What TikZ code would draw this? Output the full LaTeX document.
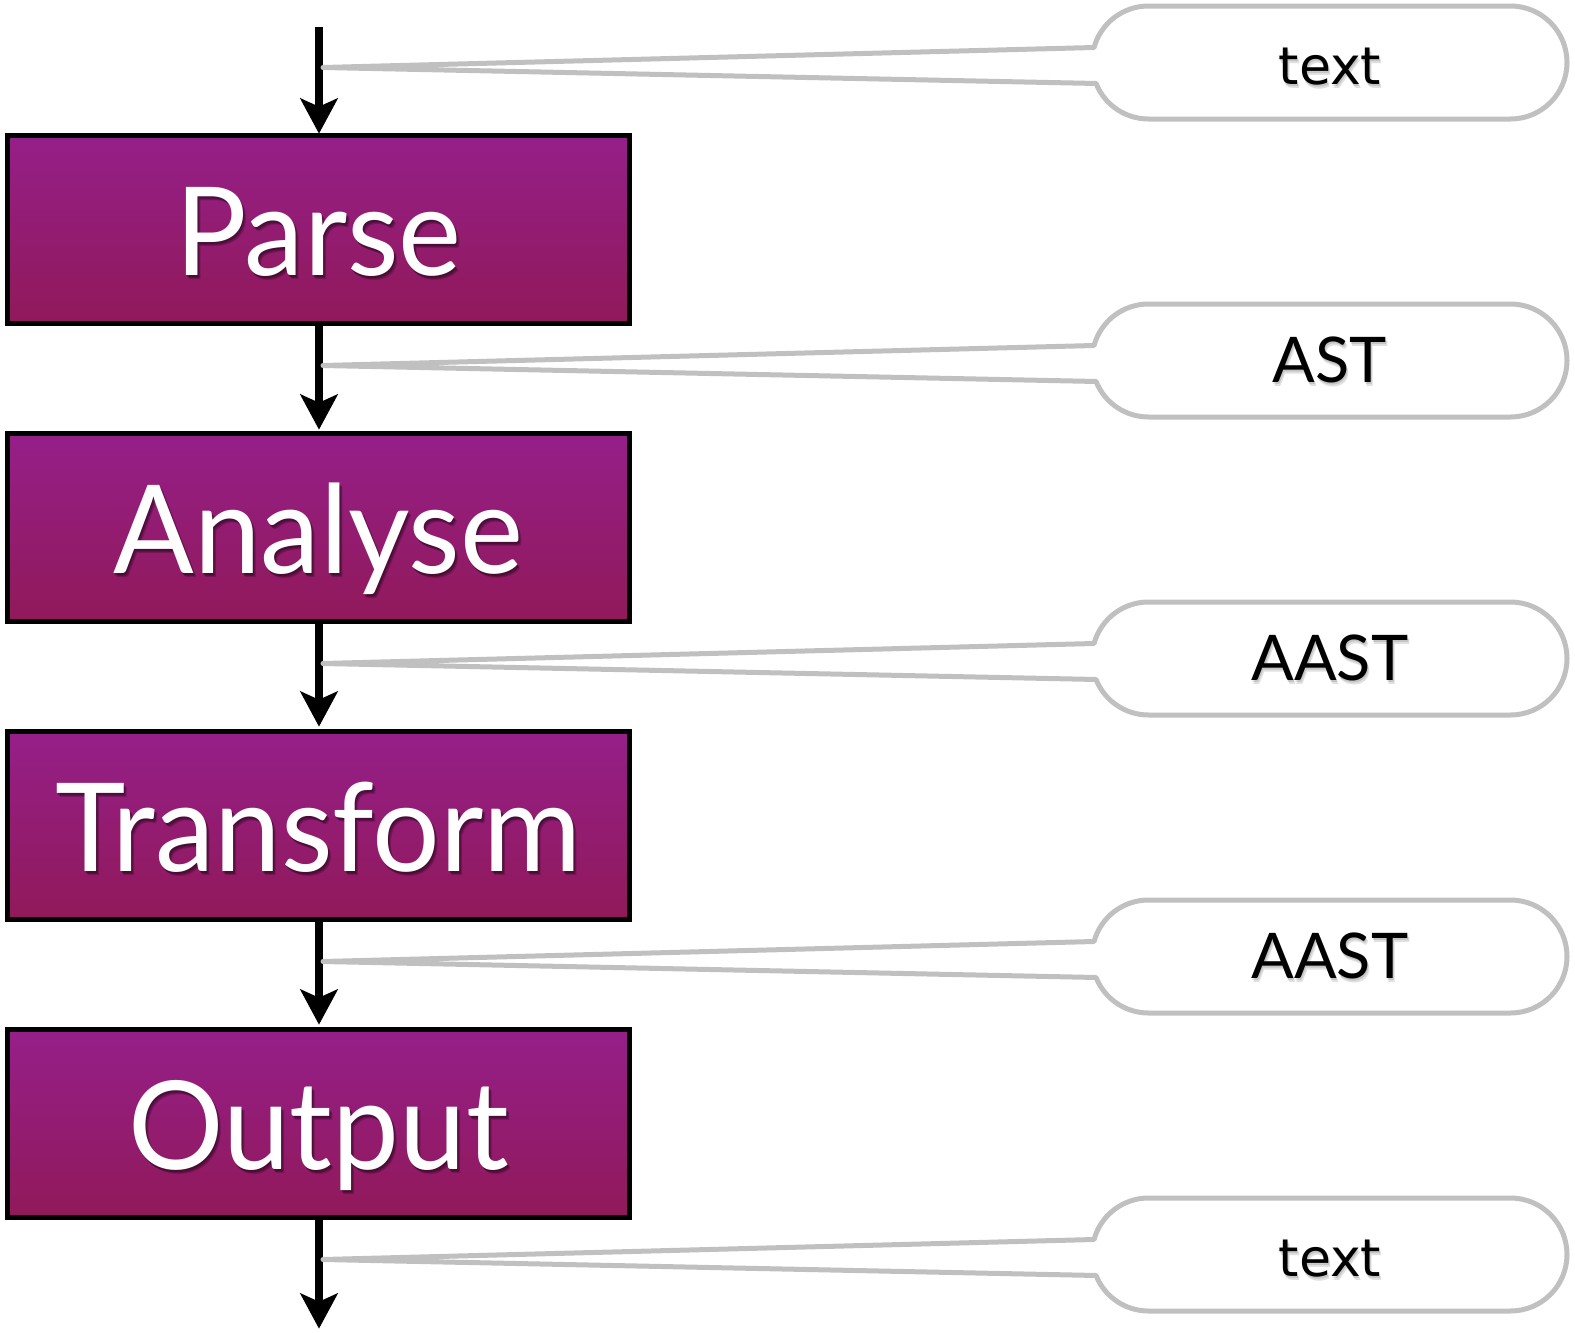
\documentclass[tikz,border=0pt]{standalone}
\usepackage{fontspec}
\newfontfamily\stagefont[FakeStretch=0.97]{Lato}
\newfontfamily\tagfont{Lato}
\newfontfamily\plainfont{DejaVu Sans}
\usetikzlibrary{calc}

\definecolor{stagetop}{RGB}{149,31,137}
\definecolor{stagebot}{RGB}{145,25,90}
\definecolor{callgray}{RGB}{192,192,192}

\tikzset{
  stage/.style={draw=black, line width=5pt, top color=stagetop, bottom color=stagebot,
    minimum width=622pt, minimum height=188pt, inner sep=0pt},
  stagelabel/.style={anchor=base, inner sep=0pt, text=white,
    font=\stagefont\fontsize{123}{123}\selectfont},
  stageshadow/.style={stagelabel, text=black, text opacity=0.2},
  flow/.style={line width=8pt, shorten >=22pt},
  flowhead/.style={fill=black, draw=black, line width=1.5pt, line join=miter},
  callout/.style={draw=callgray, line width=5pt, fill=white, line join=round},
  calltext/.style={anchor=base, inner sep=0pt, text=black},
  callshadow/.style={calltext, text=black, text opacity=0.12},
  tagtext/.style={font=\tagfont\fontsize{63}{63}\selectfont},
  plaintext/.style={font=\plainfont\fontsize{52}{52}\selectfont},
}

% a downward connector with a swept-back arrow head ending at #2
\newcommand\flowto[2]{%
  \draw[flow] (#1) -- (#2);
  \filldraw[flowhead] ($(#2)+(0,-1)$) -- ($(#2)+(-17.5,-33.5)$) -- ($(#2)+(0,-25.5)$)
    -- ($(#2)+(17.5,-33.5)$) -- cycle;
}

% a processing stage: name, centre y, label
\newcommand\stagebox[3]{%
  \node[stage] (#1) at (318.5,#2) {};
  \foreach \dx/\dy [count=\k] in {1/2,2/3,3/4}
    \node[stageshadow] (#1-shadow\k) at (318.5+\dx,#2+46+\dy) {#3};
  \node[stagelabel] (#1-label) at (318.5,#2+46) {#3};
}

% a pill-shaped callout whose wedge points at a coordinate on the flow:
% name, centre y, tip coordinate, label style, label
\newcommand\callout[5]{%
  \coordinate (#1-lc) at (1148.5,#2);
  \coordinate (#1-rc) at (1510.5,#2);
  \draw[callout] (#3) -- ($(#1-lc)+(195.4:56.5)$)
    arc[start angle=195.4, end angle=270, radius=56.5]
    -- ($(#1-rc)+(270:56.5)$)
    arc[start angle=270, end angle=450, radius=56.5]
    -- ($(#1-lc)+(90:56.5)$)
    arc[start angle=90, end angle=158.2, radius=56.5]
    -- cycle;
  \foreach \dx/\dy [count=\k] in {1/2,2/3.5}
    \node[callshadow,#4] (#1-shadow\k) at (1330+\dx,#2+22+\dy) {#5};
  \node[calltext,#4] (#1) at (1330,#2+22) {#5};
}

\begin{document}
\begin{tikzpicture}[x=1pt,y=-1pt]
  \useasboundingbox (0,0) rectangle (1575,1333);

  % stages
  \stagebox{parse}{229.5}{Parse}
  \stagebox{analyse}{527.5}{Analyse}
  \stagebox{transform}{825.5}{Transform}
  \stagebox{output}{1123.5}{Output}

  % flow through the stages
  \coordinate (in) at (319,27);
  \coordinate (out) at (319,1328);
  \coordinate (p-in) at (319,133);
  \coordinate (p-out) at (319,324);
  \coordinate (a-in) at (319,429);
  \coordinate (a-out) at (319,622);
  \coordinate (t-in) at (319,726);
  \coordinate (t-out) at (319,920);
  \coordinate (o-in) at (319,1024);
  \coordinate (o-out) at (319,1218);
  \flowto{in}{p-in}
  \flowto{p-out}{a-in}
  \flowto{a-out}{t-in}
  \flowto{t-out}{o-in}
  \flowto{o-out}{out}

  % points on the flow that the callouts name
  \coordinate (tip1) at (323,67.5);
  \coordinate (tip2) at (323,365.5);
  \coordinate (tip3) at (323,663.5);
  \coordinate (tip4) at (323,961.5);
  \coordinate (tip5) at (323,1259.5);

  % data carried between stages
  \callout{c1}{62.5}{tip1}{plaintext}{text}
  \callout{c2}{360.5}{tip2}{tagtext}{AST}
  \callout{c3}{658.5}{tip3}{tagtext}{AAST}
  \callout{c4}{956.5}{tip4}{tagtext}{AAST}
  \callout{c5}{1254.5}{tip5}{plaintext}{text}
\end{tikzpicture}
\end{document}
